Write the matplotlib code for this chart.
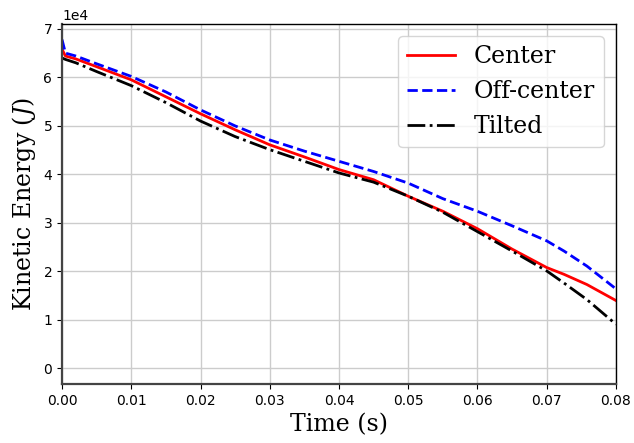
import numpy as np
import matplotlib
matplotlib.use('Agg')
import matplotlib.pyplot as plt

# time samples (s)
t = [0, 0.0005, 0.002, 0.005, 0.01, 0.015, 0.02, 0.025, 0.03, 0.035,
     0.04, 0.045, 0.05, 0.055, 0.06, 0.065, 0.07, 0.0725, 0.0758, 0.08]

# kinetic energy (J)
center = [6.58, 6.44, 6.38, 6.22, 5.95, 5.60, 5.25, 4.92, 4.61, 4.36,
          4.10, 3.89, 3.55, 3.24, 2.88, 2.46, 2.08, 1.94, 1.73, 1.40]
off_center = [6.78, 6.50, 6.44, 6.28, 6.02, 5.70, 5.33, 5.00, 4.71, 4.48,
              4.27, 4.06, 3.82, 3.50, 3.24, 2.94, 2.63, 2.42, 2.11, 1.64]
tilted = [6.40, 6.37, 6.30, 6.12, 5.83, 5.48, 5.10, 4.78, 4.51, 4.27,
          4.03, 3.84, 3.55, 3.22, 2.82, 2.42, 2.01, 1.76, 1.42, 0.91]

center = np.array(center) * 1e4
off_center = np.array(off_center) * 1e4
tilted = np.array(tilted) * 1e4

plt.rcParams['mathtext.fontset'] = 'dejavuserif'

fig = plt.figure(figsize=(6.34, 4.43), dpi=100)
ax = fig.add_axes([0.0978, 0.1332, 0.8738, 0.8126])

ax.plot(t, center, color='red', lw=2, label='Center')
ax.plot(t, off_center, color='blue', ls='--', lw=2, label='Off-center')
ax.plot(t, tilted, color='black', ls='-.', lw=2, label='Tilted')

ax.set_xlim(0, 0.08)
ax.set_ylim(-3200, 71000)
ax.set_xticks(np.arange(0, 0.0801, 0.01))
ax.set_yticks(np.arange(0, 70001, 10000))
ax.ticklabel_format(axis='y', style='sci', scilimits=(4, 4))
ax.tick_params(labelsize=10)
ax.grid(True, color='#cccccc', lw=1)

for s in ['left', 'bottom']:
    ax.spines[s].set_color('#444444')
    ax.spines[s].set_linewidth(1.6)
for s in ['top', 'right']:
    ax.spines[s].set_color('black')
    ax.spines[s].set_linewidth(1.0)

ax.set_xlabel('Time (s)', family='DejaVu Serif', fontsize=17)
ax.set_ylabel('Kinetic Energy ($J$)', family='DejaVu Serif', fontsize=17)

ax.legend(loc='upper right', prop={'family': 'DejaVu Serif', 'size': 17})

fig.savefig('out.png', dpi=100)
